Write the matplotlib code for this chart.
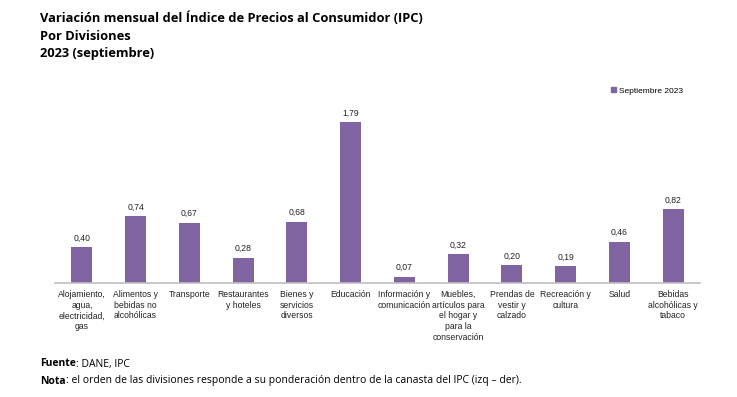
import matplotlib

matplotlib.use("Agg")
import matplotlib.pyplot as plt  # noqa: E402
from matplotlib.patches import Patch  # noqa: E402

categories = [
    "Alojamiento,\nagua,\nelectricidad,\ngas",
    "Alimentos y\nbebidas no\nalcohólicas",
    "Transporte",
    "Restaurantes\ny hoteles",
    "Bienes y\nservicios\ndiversos",
    "Educación",
    "Información y\ncomunicación",
    "Muebles,\nartículos para\nel hogar y\npara la\nconservación",
    "Prendas de\nvestir y\ncalzado",
    "Recreación y\ncultura",
    "Salud",
    "Bebidas\nalcohólicas y\ntabaco",
]
values = [0.40, 0.74, 0.67, 0.28, 0.68, 1.79, 0.07, 0.32, 0.20, 0.19, 0.46, 0.82]
series_name = "Septiembre 2023"

BAR = "#8064A2"
LBL = ["Liberation Sans", "DejaVu Sans"]
TTL = ["Open Sans", "DejaVu Sans"]

fig = plt.figure(figsize=(7.37, 3.97), dpi=100)
ax = fig.add_axes([55 / 737, 114 / 397, 645 / 737, 180 / 397])

x = range(len(values))
bars = ax.bar(x, values, width=0.39, color=BAR, zorder=2)
for b, v in zip(bars, values):
    ax.text(b.get_x() + b.get_width() / 2, v + 0.05, f"{v:.2f}".replace(".", ","),
            ha="center", va="bottom", fontsize=6.2, family=LBL, color="#222222")

ax.set_xlim(-0.5, len(values) - 0.5)
ax.set_ylim(0, 2.0)
ax.set_yticks([])
ax.set_xticks(list(x))
ax.set_xticklabels(categories, fontsize=6.2, family=LBL, linespacing=1.25,
                   va="top", color="#222222")
ax.tick_params(axis="x", length=0, pad=5)
for s in ("top", "right", "left"):
    ax.spines[s].set_visible(False)
ax.spines["bottom"].set_color("#BFBFBF")
ax.spines["bottom"].set_linewidth(1.2)

ax.legend(handles=[Patch(color=BAR, label=series_name)], loc="upper right",
          bbox_to_anchor=(0.985, 1.13), frameon=False, handlelength=0.6,
          handleheight=0.6, handletextpad=0.3,
          prop={"family": "Liberation Sans", "size": 6})

for i, line in enumerate(["Variación mensual del Índice de Precios al Consumidor (IPC)",
                          "Por Divisiones", "2023 (septiembre)"]):
    fig.text(40 / 737, 1 - (18 + 18 * i) / 397, line,
             fontsize=9.3, weight="bold", family=TTL, va="center")

# footer: bold lead word followed by regular text
renderer = fig.canvas.get_renderer()
for y, lead, rest in [
    (364, "Fuente", ": DANE, IPC"),
    (381, "Nota", ": el orden de las divisiones responde a su ponderación "
                  "dentro de la canasta del IPC (izq – der)."),
]:
    t = fig.text(40 / 737, 1 - y / 397, lead, fontsize=7.5, weight="bold",
                 family=TTL, va="center")
    bb = t.get_window_extent(renderer)
    fig.text(bb.x1 / fig.bbox.width, 1 - y / 397, rest, fontsize=7.5,
             family=TTL, va="center")

fig.savefig("out.png", dpi=100)
